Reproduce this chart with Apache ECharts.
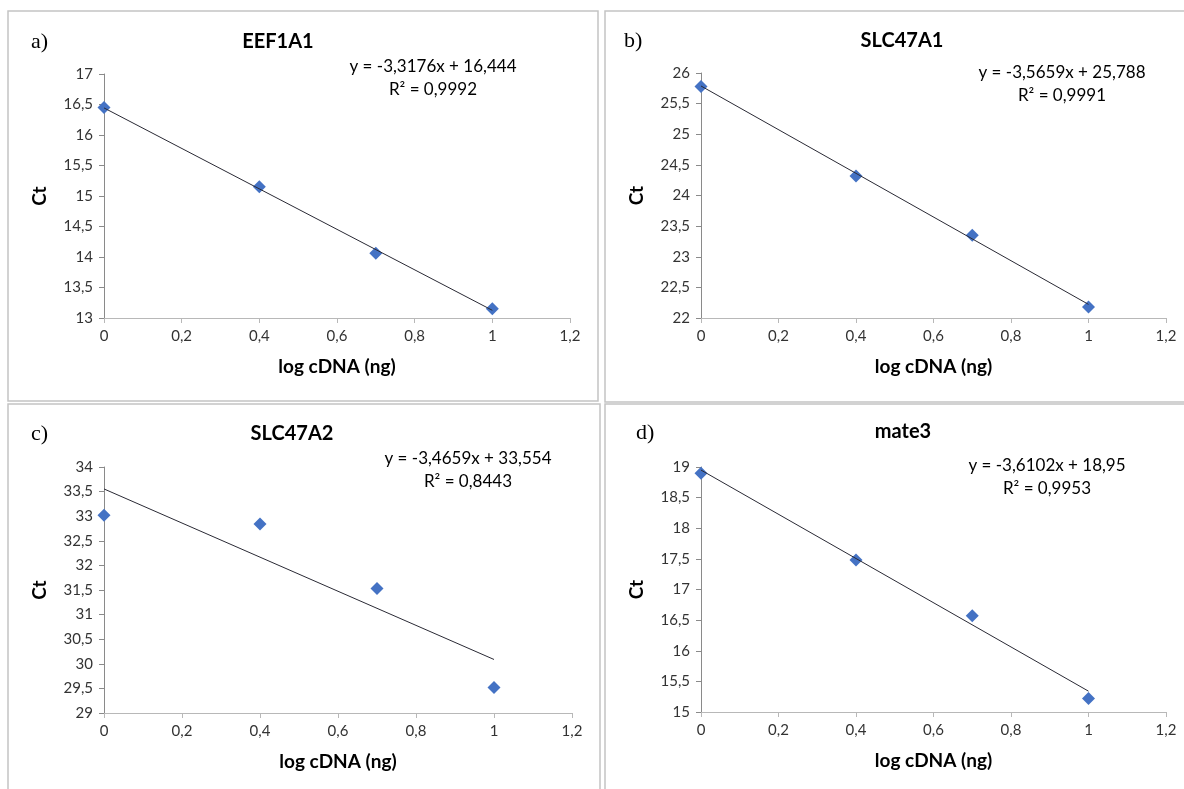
<!DOCTYPE html>
<html>
<head>
<meta charset="utf-8">
<script src="https://cdn.jsdelivr.net/npm/echarts@6/dist/echarts.min.js"></script>
<style>
html,body{margin:0;padding:0;background:#fff;}
#chart{width:1184px;height:789px;}
</style>
</head>
<body>
<div id="chart"></div>
<script>
// ---- data ----
const logCDNA = [0, 0.4, 0.7, 1];
const ctEEF1A1 = [16.45, 15.15, 14.06, 13.15];
const ctSLC47A1 = [25.78, 24.32, 23.35, 22.18];
const ctSLC47A2 = [33.02, 32.84, 31.53, 29.52];
const ctMate3 = [18.90, 17.48, 16.57, 15.22];
const trendX = [0, 1];
const trendEEF1A1 = [16.444, 13.126];
const trendSLC47A1 = [25.788, 22.222];
const trendSLC47A2 = [33.554, 30.088];
const trendMate3 = [18.95, 15.34];
const panelLetters = ['a)', 'b)', 'c)', 'd)'];
const geneNames = ['EEF1A1', 'SLC47A1', 'SLC47A2', 'mate3'];
const equations = ['y = -3,3176x + 16,444', 'y = -3,5659x + 25,788', 'y = -3,4659x + 33,554', 'y = -3,6102x + 18,95'];
const rSquared = ['R² = 0,9992', 'R² = 0,9991', 'R² = 0,8443', 'R² = 0,9953'];
const yMin = [13, 22, 29, 15];
const yMax = [17, 26, 34, 19];
const xTickMin = 0, xTickMax = 1.2, xTickStep = 0.2, yTickStep = 0.5;
const xAxisName = 'log cDNA (ng)';
const yAxisName = 'Ct';

const ctSets = [ctEEF1A1, ctSLC47A1, ctSLC47A2, ctMate3];
const trendSets = [trendEEF1A1, trendSLC47A1, trendSLC47A2, trendMate3];

// ---- layout ----
const grids = [
  {left: 104, right: 614, top: 74, bottom: 471},
  {left: 701, right: 18, top: 73, bottom: 471},
  {left: 104, right: 612, top: 467, bottom: 76},
  {left: 701, right: 18, top: 467, bottom: 77}
];
const titlePos = [[278, 32], [902, 31], [292, 424], [903, 422]];
const letterPos = [[31, 31], [624, 30], [31, 423], [636, 422]];
const eqPos = [[433, 55], [1062, 61], [468, 447], [1047, 454]];

const fmt = v => String(Math.round(v * 10) / 10).replace('.', ',');
const font = 'Lato, "Open Sans", sans-serif';

const titles = [];
const xAxes = [], yAxes = [], series = [];
for (let i = 0; i < 4; i++) {
  titles.push({
    text: geneNames[i], left: titlePos[i][0], top: titlePos[i][1], textAlign: 'center', padding: 0,
    textStyle: {fontFamily: font, fontWeight: 'bold', fontSize: 20, color: '#000'}
  });
  titles.push({
    text: panelLetters[i], left: letterPos[i][0], top: letterPos[i][1], padding: 0,
    textStyle: {fontFamily: '"Liberation Serif", serif', fontWeight: 'normal', fontSize: 22, color: '#000'}
  });
  titles.push({
    text: equations[i] + '\n' + rSquared[i], left: eqPos[i][0], top: eqPos[i][1], textAlign: 'center', padding: 0,
    textStyle: {fontFamily: font, fontWeight: 'normal', fontSize: 17, lineHeight: 23, color: '#000'}
  });
  xAxes.push({
    type: 'value', gridIndex: i, min: xTickMin, max: xTickMax, interval: xTickStep,
    name: xAxisName, nameLocation: 'middle', nameGap: 39,
    nameTextStyle: {fontFamily: font, fontWeight: 'bold', fontSize: 19, color: '#000'},
    axisLine: {show: true, onZero: false, lineStyle: {color: '#b8b8b8', width: 1}},
    axisTick: {show: true, length: 5, lineStyle: {color: '#b8b8b8'}},
    axisLabel: {formatter: fmt, margin: 11, fontFamily: font, fontSize: 15, color: '#333'},
    splitLine: {show: false}
  });
  yAxes.push({
    type: 'value', gridIndex: i, min: yMin[i], max: yMax[i], interval: yTickStep,
    name: yAxisName, nameLocation: 'middle', nameGap: 55,
    nameTextStyle: {fontFamily: font, fontWeight: 'bold', fontSize: 19, color: '#000'},
    axisLine: {show: true, onZero: false, lineStyle: {color: '#8a8a8a', width: 1}},
    axisTick: {show: true, length: 5, lineStyle: {color: '#8a8a8a'}},
    axisLabel: {formatter: fmt, margin: 11, fontFamily: font, fontSize: 15, color: '#333'},
    splitLine: {show: false}
  });
  series.push({
    type: 'scatter', xAxisIndex: i, yAxisIndex: i, symbol: 'diamond', symbolSize: 13,
    itemStyle: {color: '#4472C4', opacity: 1}, z: 2,
    data: logCDNA.map((x, k) => [x, ctSets[i][k]])
  });
  series.push({
    type: 'line', xAxisIndex: i, yAxisIndex: i, symbol: 'none', z: 3,
    lineStyle: {color: '#2a2a35', width: 1},
    data: trendX.map((x, k) => [x, trendSets[i][k]])
  });
}

const borderStyle = {fill: 'none', stroke: '#c4c4c4', lineWidth: 1.5};
const chart = echarts.init(document.getElementById('chart'), null, {renderer: 'canvas'});
chart.setOption({
  animation: false,
  backgroundColor: '#fff',
  title: titles,
  grid: grids,
  xAxis: xAxes,
  yAxis: yAxes,
  series: series,
  graphic: [
    {type: 'rect', shape: {x: 8, y: 11, width: 590, height: 390}, style: borderStyle, silent: true},
    {type: 'rect', shape: {x: 605, y: 11, width: 600, height: 391}, style: borderStyle, silent: true},
    {type: 'rect', shape: {x: 8, y: 404, width: 592, height: 400}, style: borderStyle, silent: true},
    {type: 'rect', shape: {x: 605, y: 404, width: 600, height: 400}, style: borderStyle, silent: true}
  ]
});
</script>
</body>
</html>
